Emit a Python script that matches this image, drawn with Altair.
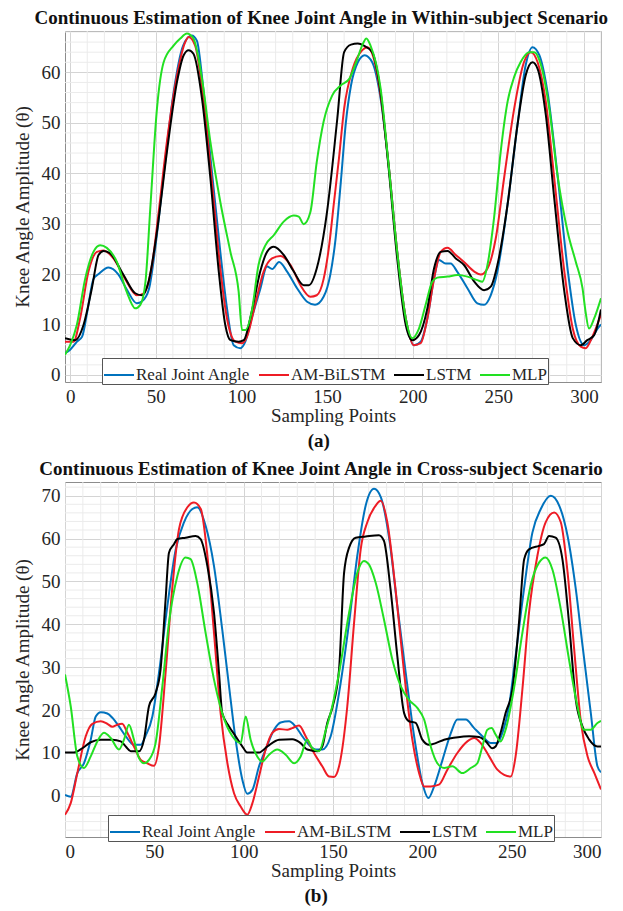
import altair as alt
import pandas as pd

SERIES = ["Real Joint Angle", "AM-BiLSTM", "LSTM", "MLP"]
COLORS = ["#0072BD", "#EE1C25", "#000000", "#22E022"]
FONT = "Liberation Serif"

# ---------------- Panel (a): within-subject ----------------
a_real_x = [-3, 0, 4, 7, 10, 13.6, 16.6, 22.4, 28, 33, 39, 42, 46, 50, 54.6, 60.4, 66, 71, 74, 78, 83, 87.7, 91.6, 95.5, 99.4, 102.3, 106, 111, 115, 118, 122, 126.7, 132.5, 138.4, 143, 148, 152, 155, 158, 161, 164, 168, 172, 176.4, 181.3, 186, 191, 196, 200.8, 204.7, 208.6, 212.5, 215.4, 219.3, 222.2, 226, 232, 237.8, 241.7, 245.6, 249.5, 255.4, 261.2, 266, 270, 274, 278.8, 284.6, 290.5, 295.3, 300.2, 304, 308, 310]
a_real_y = [4.3, 5, 6.6, 7.6, 12.5, 19, 20, 21.3, 20, 17, 14.2, 14.6, 17, 26, 39.6, 56, 65.3, 67.3, 66.3, 56, 39.6, 24.4, 13.2, 5.9, 5.3, 6.6, 11.2, 17, 21.5, 21, 22.4, 20.5, 17.2, 14.5, 13.9, 15.5, 20, 27, 38, 50, 57.4, 62, 63.4, 62, 54.8, 41.6, 24.4, 11.2, 5.9, 6.6, 11.2, 19.1, 22.8, 22.1, 22.1, 20.5, 17.2, 14.2, 13.9, 15.8, 20.5, 33.7, 49.5, 61.4, 65, 63.4, 56, 39.6, 21, 9.9, 5.9, 6.9, 9.2, 10]

a_am_x = [-3, 2, 5.8, 10.7, 15.6, 19.5, 25.3, 32, 39, 43, 47.8, 51.7, 56.5, 62.4, 67.2, 69.2, 73, 78, 83, 87.7, 91.6, 96.5, 100.4, 103.3, 108, 113, 117.9, 122.8, 128.7, 134.5, 140.3, 144, 148, 151, 154, 157, 160, 165, 170.6, 173.5, 176.4, 181.3, 186, 191, 196, 200.8, 204.7, 208.6, 212.5, 216.4, 220.4, 225.2, 230, 236, 239.8, 243.7, 248.5, 253.4, 259.3, 265, 269, 273, 277.8, 282.7, 288.6, 293.5, 298.2, 301, 305, 310]
a_am_y = [6.6, 6.6, 11.2, 20.5, 24.4, 24.7, 23.1, 19.1, 15.8, 16.2, 21.8, 32.3, 46.2, 59.4, 66, 67, 65.3, 54.1, 37.6, 21.1, 11.2, 6.6, 6.3, 7.6, 13.9, 20.5, 23.1, 23.6, 21.8, 17.8, 15.5, 15.8, 19, 25, 34, 43, 52.8, 60.7, 64.4, 65, 63.7, 55.4, 41.6, 24.4, 11.2, 5.9, 6.3, 11.2, 19.1, 24.4, 25.2, 23.8, 22.4, 20.5, 19.9, 21.1, 27, 39, 52.8, 62, 64, 62, 54.1, 39, 20.5, 9.2, 5.6, 5.3, 7.6, 12]

a_lstm_x = [-3, 3, 7.8, 12.7, 16.6, 19.5, 23.4, 31.2, 38, 42, 45.8, 50.7, 56.5, 62.4, 66.3, 69.2, 72, 77, 81.9, 86.8, 90.6, 93.6, 98.4, 101.4, 106, 111, 115, 118.9, 124.7, 130.6, 136.4, 139.4, 144, 150, 156, 160, 164, 168, 171.5, 176.4, 181.3, 186, 191, 196, 199.8, 203.7, 208.6, 212.5, 216.4, 220.4, 225.2, 230, 236, 241.7, 245.6, 249.5, 255.4, 261.2, 266, 270, 273, 277.8, 282.7, 288.6, 293.5, 298.2, 302, 306, 310]
a_lstm_y = [7.3, 6.9, 9.9, 17.2, 23.8, 24.6, 24.1, 19.8, 16.2, 15.8, 18.5, 28.4, 44.2, 58.1, 63.4, 64.4, 63.7, 54.8, 39, 20.5, 9.9, 6.9, 6.6, 6.9, 12.5, 20.5, 24.4, 25.4, 23.8, 20.5, 17.8, 17.8, 21.1, 32.3, 50.8, 64, 65.5, 65.7, 65.3, 64, 56, 41, 23.1, 9.9, 6.9, 7.9, 13.2, 21.1, 24.4, 24.6, 23.1, 21.8, 18.5, 16.8, 17.5, 21.8, 33.7, 49.5, 59.4, 62, 60.7, 51.5, 35, 16.5, 7.3, 5.9, 6.9, 7.9, 13]

a_mlp_x = [-3, 0, 3.9, 8.8, 13.6, 17.5, 21.4, 27.3, 33, 38, 41, 44, 46.8, 50.7, 54.6, 60.4, 64.3, 68.2, 72, 77, 81.9, 87.7, 93.6, 98.4, 100.4, 102.3, 106, 110, 114, 118.9, 124.7, 130.6, 133.5, 136.4, 140.3, 144, 148, 153, 158, 163, 167, 171, 173, 175.4, 181.3, 186, 191, 196, 199.8, 203.7, 207.6, 211.5, 214.4, 220.4, 226.2, 232, 237.8, 240.7, 243.7, 247.5, 251.4, 255.4, 259.3, 263, 268, 271, 275, 279.8, 284.6, 290.5, 295.3, 299.2, 301, 303, 306, 310]
a_mlp_y = [4, 5.9, 9.9, 19.1, 24.4, 25.7, 25.2, 22.4, 16.5, 13.2, 13.9, 18.5, 33, 52.8, 62, 65.3, 66.7, 67.7, 66.7, 58.7, 46.2, 34.3, 24.4, 16.5, 8.9, 8.9, 12.5, 21.8, 25.7, 27.7, 30.4, 31.6, 31.4, 29.9, 32.3, 42.2, 50.2, 55.4, 57.4, 58.7, 62, 65.7, 66.7, 65.3, 56.8, 41.6, 24.4, 11.2, 7.3, 9.2, 13.9, 18.5, 19.3, 19.5, 19.8, 19.5, 18.8, 18.5, 21.8, 31, 44.2, 54.1, 59.1, 62, 64, 64, 61.4, 52.8, 39.6, 28.4, 22.4, 17.2, 12.5, 9.2, 11.2, 15.2]

# ---------------- Panel (b): cross-subject ----------------
b_real_x = [0, 3.2, 6.9, 10.6, 14.4, 17.2, 20, 23.7, 26.5, 30.2, 34, 38.6, 42.4, 45, 48.9, 52.6, 57.3, 62, 66.6, 71.3, 74, 78.7, 83.4, 88, 91.8, 95.5, 99.3, 102, 104.9, 108.6, 112.3, 117, 120.7, 125.4, 129, 132.8, 137.5, 140.3, 144, 148.7, 153.4, 159, 163.6, 168.3, 173, 176.8, 181.5, 186, 190.7, 195.4, 200, 203.4, 206.6, 211.3, 216, 219.6, 224.3, 229, 233.6, 238.3, 242, 244.8, 248.5, 252.2, 256.9, 261.6, 266.3, 271.9, 276.6, 281.3, 285.9, 289.7, 294.3, 298, 300]
b_real_y = [0.2, -0.2, 5.3, 7.6, 13.1, 18.5, 19.5, 19.2, 18.2, 16.2, 13.9, 11.9, 11.9, 13.9, 18.5, 28.7, 44.3, 57.5, 63.8, 66.9, 67.3, 63, 53.6, 38.8, 25.6, 13.1, 3.7, 0.5, 1.4, 6.9, 10.8, 15.4, 17.1, 17.4, 16.2, 13.9, 11.5, 10.8, 10.8, 13.9, 24, 40.4, 56, 67.7, 71.6, 69.6, 59.9, 44.3, 28.7, 13.9, 3, -0.5, 2.2, 8.4, 14.7, 17.8, 17.8, 15.8, 13.9, 12.3, 12.3, 14.7, 20.9, 32.6, 48.2, 61.4, 66.9, 70, 67.7, 60.6, 48.2, 34.9, 19.3, 6.9, 5.5]

b_am_x = [0, 3.2, 6.9, 11.6, 15.3, 20, 23.7, 26.5, 29.3, 32, 34.9, 38.6, 42.4, 46, 49.8, 52.6, 56.3, 60, 63.8, 68.5, 72.2, 76, 79.7, 83.4, 87.1, 90.9, 94.6, 98.3, 102, 104.9, 108.6, 112.3, 116, 119.8, 124.4, 127.2, 131, 134.7, 139.4, 144, 147.8, 150.6, 153.4, 158, 161.8, 165.5, 169.2, 173.9, 176.7, 180.4, 185, 189.8, 194.4, 198.2, 201, 204.7, 209.3, 214, 219.6, 225.2, 229, 232.7, 237.4, 242, 245.8, 249.5, 252.2, 256, 259.7, 264.4, 269, 273.8, 277.5, 281.3, 285, 288.8, 292.5, 296.3, 300]
b_am_y = [-4.4, -1.7, 5.3, 13.9, 16.8, 17.4, 16.8, 16.1, 16.6, 16.8, 14.7, 11.5, 8.4, 7.6, 7, 11.5, 28.7, 48.2, 62.2, 67.3, 68.4, 66.9, 56, 38, 19.3, 7.6, 0.6, -2.5, -4.4, -1.7, 4.5, 10.8, 14.7, 15.6, 15.4, 15.8, 16.4, 13.9, 10, 6.9, 4.5, 4.4, 6.9, 20.9, 40.4, 57.5, 63.8, 67.7, 68.8, 63.8, 48.2, 28.7, 13.1, 5.3, 2.2, 2.2, 2.6, 6.1, 10, 12.7, 13.5, 12.3, 9.2, 6.1, 4.9, 4.5, 9.2, 24.8, 42.7, 56, 63.8, 66.1, 63.8, 52.1, 34.1, 17, 9.2, 5.3, 1.5]

b_lstm_x = [0, 5, 9.7, 14.4, 20, 26.5, 31.2, 34, 36.8, 41.4, 44.2, 47, 50.7, 53.5, 56.3, 58.2, 61, 62.9, 67.5, 73.1, 75.9, 79.7, 83.4, 86.2, 88, 91.8, 95.5, 99.3, 102, 108.6, 113.2, 119.8, 127.2, 131.9, 135.6, 141.2, 144, 146.8, 149.6, 153.4, 156.2, 159, 162.7, 168.3, 175.7, 178.5, 182.2, 186, 189.8, 192.5, 196.3, 200, 203.8, 207.5, 212.2, 218.7, 226.2, 231.7, 235.5, 239.2, 241, 243.8, 246.6, 250.4, 254.1, 257, 259.7, 265.3, 268.1, 270.9, 274.6, 278.4, 282.1, 285.9, 289.6, 293.4, 298, 300]
b_lstm_y = [10.1, 10.1, 11.1, 12.5, 13.1, 13.1, 12.7, 11.5, 10.4, 10.4, 13.1, 20.9, 24, 29.5, 45.8, 56.7, 58.7, 59.9, 60.2, 60.6, 59.9, 53.6, 42.7, 28.7, 19.3, 16.2, 13.9, 11.5, 10.1, 10.1, 11.5, 13.1, 13.2, 12.3, 10.8, 10.4, 11.5, 17, 20.5, 29.5, 52, 57.9, 60.2, 60.5, 60.8, 59.5, 48.2, 32.6, 19.3, 17.4, 17, 13.1, 11.9, 12.3, 13.1, 13.6, 13.9, 13.7, 12.7, 11.1, 11.5, 14.7, 19.3, 24.8, 40.4, 55.2, 57.5, 58.3, 58.7, 60.6, 60.2, 55.2, 40.4, 22.4, 16.2, 13.1, 11.5, 11.5]

b_mlp_x = [0, 3.2, 6.9, 10.6, 14.4, 18.1, 21.8, 25.6, 30.2, 33, 35.8, 38.6, 41.4, 44.2, 47, 50.7, 54.5, 58.2, 62.9, 67.5, 70.3, 74, 78.7, 83.4, 88, 93.7, 98.3, 101.1, 103.9, 107.6, 110.4, 114.2, 118.8, 123.5, 128.2, 131.9, 135.6, 138.4, 142.2, 146, 149.6, 153.4, 159, 163.6, 167.3, 170.1, 173.9, 178.5, 183.2, 187.9, 192.5, 197.2, 201, 204.7, 208.4, 212.2, 216.8, 222.4, 227.1, 230.8, 233.6, 236.4, 238.8, 241, 243.8, 246.6, 251.2, 256, 260.6, 265.3, 269, 272.8, 277.5, 282.1, 286.8, 290.5, 294.2, 298, 300]
b_mlp_y = [28.3, 20.9, 9.2, 6.5, 9.2, 12.7, 14.7, 13.5, 10.8, 13.1, 16.6, 13.1, 8.8, 7.6, 8.4, 12.3, 25.6, 40.4, 51.3, 55.6, 55.2, 49.7, 38, 27.1, 19.3, 13.9, 12.3, 18.5, 13.1, 9.2, 8, 9.6, 10.8, 9.6, 7.6, 9.2, 13.1, 11.1, 10.4, 15.4, 20.9, 28.7, 42.7, 52, 54.8, 54, 49.7, 41.2, 31.8, 25.6, 22.4, 20.5, 17.8, 11.5, 7.6, 6.5, 6.9, 5.3, 6.5, 7.6, 11.5, 15.4, 15.8, 14.3, 12.7, 15.4, 24.8, 38, 49, 54.4, 55.6, 52.8, 43.5, 31.8, 20.9, 15.4, 15.4, 17, 17.5]

# axis ticks and grid positions
a_x_ticks = [0, 50, 100, 150, 200, 250, 300]
a_y_ticks = [0, 10, 20, 30, 40, 50, 60]
b_x_ticks = [0, 50, 100, 150, 200, 250, 300]
b_y_ticks = [0, 10, 20, 30, 40, 50, 60, 70]
a_x_minor = [v for v in range(0, 311, 10) if v % 50 != 0]
a_y_minor = [v for v in range(0, 69, 2) if v % 10 != 0]
b_x_minor = [v for v in range(0, 301, 10) if v % 50 != 0]
b_y_minor = [v for v in range(-8, 74, 2) if v % 10 != 0]

a_title = "Continuous Estimation of Knee Joint Angle in Within-subject Scenario"
b_title = "Continuous Estimation of Knee Joint Angle in Cross-subject Scenario"


def make_df(parts):
    rows = []
    for name, xs, ys in parts:
        for xv, yv in zip(xs, ys):
            rows.append({"x": xv, "y": yv, "series": name})
    return pd.DataFrame(rows)


df_a = make_df([(SERIES[0], a_real_x, a_real_y), (SERIES[1], a_am_x, a_am_y),
                (SERIES[2], a_lstm_x, a_lstm_y), (SERIES[3], a_mlp_x, a_mlp_y)])
df_b = make_df([(SERIES[0], b_real_x, b_real_y), (SERIES[1], b_am_x, b_am_y),
                (SERIES[2], b_lstm_x, b_lstm_y), (SERIES[3], b_mlp_x, b_mlp_y)])


def panel(df, xdom, ydom, xticks, yticks, xminor, yminor, w, h, title, lx, ly):
    xs = alt.Scale(domain=xdom, nice=False, zero=False)
    ys = alt.Scale(domain=ydom, nice=False, zero=False)
    common = dict(labelFont=FONT, labelFontSize=19, labelColor="#262626",
                  titleFont=FONT, titleFontSize=19, titleFontWeight="normal",
                  titleColor="#262626", grid=True, gridColor="#d4d4d4",
                  ticks=False, domain=False)
    xaxis = alt.Axis(values=xticks, title="Sampling Points", titlePadding=0,
                     labelPadding=5, **common)
    yaxis = alt.Axis(values=yticks, title="Knee Angle Amplitude (θ)", titlePadding=9,
                     labelPadding=5, **common)

    gx = alt.Chart(pd.DataFrame({"x": xminor})).mark_rule(
        color="#ebebeb", strokeWidth=1).encode(
        x=alt.X("x:Q", scale=xs, axis=xaxis))
    gy = alt.Chart(pd.DataFrame({"y": yminor})).mark_rule(
        color="#ebebeb", strokeWidth=1, clip=True).encode(
        y=alt.Y("y:Q", scale=ys, axis=yaxis))
    lines = alt.Chart(df).mark_line(strokeWidth=2, interpolate="monotone", clip=True).encode(
        x=alt.X("x:Q", scale=xs, axis=xaxis),
        y=alt.Y("y:Q", scale=ys, axis=yaxis),
        color=alt.Color("series:N", sort=SERIES,
                        scale=alt.Scale(domain=SERIES, range=COLORS),
                        legend=alt.Legend(orient="none", legendX=lx, legendY=ly,
                                          direction="horizontal", title=None,
                                          symbolType="stroke", symbolSize=900,
                                          symbolStrokeWidth=2,
                                          labelFont=FONT, labelFontSize=17,
                                          labelColor="#262626", labelOffset=1,
                                          columnPadding=4, padding=1,
                                          fillColor="white", strokeColor="#555555")),
    )
    return alt.layer(gx, gy, lines).properties(
        width=w, height=h,
        title=alt.TitleParams(title, anchor="middle", frame="bounds", font=FONT,
                              fontSize=19, fontWeight="bold", color="#111111",
                              offset=3, dx=14))


pa = panel(df_a, [-3, 310], [-1.4, 68.2], a_x_ticks, a_y_ticks, a_x_minor, a_y_minor,
           536, 351, a_title, 37, 327)
pb = panel(df_b, [0, 300], [-9.6, 73.2], b_x_ticks, b_y_ticks, b_x_minor, b_y_minor,
           536, 355, b_title, 43, 333)

cap = dict(orient="bottom", anchor="middle", frame="bounds", font=FONT,
           fontSize=19, fontWeight="bold", color="#111111", offset=6, dx=8)
ca = alt.vconcat(pa, title=alt.TitleParams("(a)", **cap))
cb = alt.vconcat(pb, title=alt.TitleParams("(b)", **cap))

chart = alt.vconcat(ca, cb, spacing=8).resolve_scale(color="independent").properties(
    padding={"top": 0, "left": 4, "right": 0, "bottom": 0}
).configure_view(stroke="#8c8c8c", strokeWidth=1)

chart.save("out.html", embed_options={"renderer": "svg", "actions": False})
